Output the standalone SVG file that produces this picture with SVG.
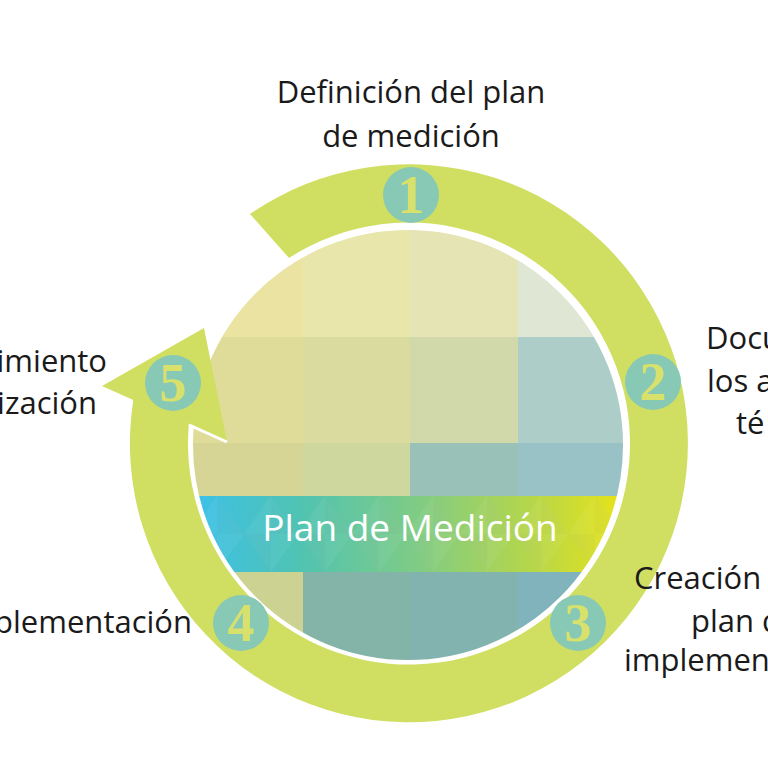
<svg xmlns="http://www.w3.org/2000/svg" width="768" height="768" viewBox="0 0 768 768">
<style>
.lbl{font-family:"Open Sans","Liberation Sans",sans-serif;font-size:31px;fill:#1a1a1a}
.num{font-family:"Liberation Serif","DejaVu Serif",serif;font-size:54px;font-weight:bold;fill:#d7e16c;text-anchor:middle}
.badge{fill:#87c9b4}
</style>
<defs>
<clipPath id="cc"><circle cx="408" cy="445" r="217"/></clipPath>
<linearGradient id="bg" x1="190" y1="0" x2="630" y2="0" gradientUnits="userSpaceOnUse">
<stop offset="0" stop-color="#3bc0ea"/>
<stop offset="0.25" stop-color="#50c3b2"/>
<stop offset="0.5" stop-color="#7ccb88"/>
<stop offset="0.75" stop-color="#b0d550"/>
<stop offset="1" stop-color="#ebe415"/>
</linearGradient>
<pattern id="dm" x="190" y="496" width="54" height="76" patternUnits="userSpaceOnUse">
<polygon points="27,0 54,38 27,76 0,38" fill="#ffffff" fill-opacity="0.05"/>
<polygon points="27,0 54,38 27,38" fill="#000000" fill-opacity="0.02"/>
<polygon points="0,38 27,76 27,38" fill="#000000" fill-opacity="0.02"/>
</pattern>
</defs>
<rect width="768" height="768" fill="#ffffff"/>
<g id="center">
<g clip-path="url(#cc)">
<rect x="180" y="220" width="123" height="117" fill="#ebe3a1"/>
<rect x="303" y="220" width="107" height="117" fill="#e8e6ab"/>
<rect x="410" y="220" width="108" height="117" fill="#e5e4b5"/>
<rect x="518" y="220" width="120" height="117" fill="#dfe6d3"/>
<rect x="180" y="337" width="123" height="106" fill="#dfdb99"/>
<rect x="303" y="337" width="107" height="106" fill="#d9db9f"/>
<rect x="410" y="337" width="108" height="106" fill="#d1d8a9"/>
<rect x="518" y="337" width="120" height="106" fill="#adcdc8"/>
<rect x="180" y="443" width="123" height="53" fill="#d7d596"/>
<rect x="303" y="443" width="107" height="53" fill="#cdd79e"/>
<rect x="410" y="443" width="108" height="53" fill="#9ac1b8"/>
<rect x="518" y="443" width="120" height="53" fill="#98c2c6"/>
<rect x="180" y="572" width="123" height="100" fill="#ccd292"/>
<rect x="303" y="572" width="107" height="100" fill="#84b3a8"/>
<rect x="410" y="572" width="108" height="100" fill="#83b3ae"/>
<rect x="518" y="572" width="120" height="100" fill="#80b3bb"/>
<rect x="180" y="496" width="458" height="76" fill="url(#bg)"/>
<rect x="180" y="496" width="458" height="76" fill="url(#dm)"/>
</g>
<circle cx="408" cy="445" r="217" fill="none" stroke="#ffffff" stroke-width="4"/>
<text x="410" y="541" text-anchor="middle" font-family="Open Sans, Liberation Sans, sans-serif" font-size="37" fill="#ffffff">Plan de Medición</text>
</g>
<g id="connectors">
<path d="M250,214 A279,279 0 1 1 133.3,400 L102,386 L204,328 L227,442 L188.8,424.9 A221,221 0 1 0 289,258 Z" fill="#d0df62"/>
<line x1="188.8" y1="424.9" x2="227" y2="442" stroke="#ffffff" stroke-width="3"/>
</g>
<g id="n1"><circle class="badge" cx="411" cy="195" r="28"/><text class="num" x="411" y="213">1</text>
<text class="lbl" x="411" y="103" text-anchor="middle">Definición del plan</text>
<text class="lbl" x="411" y="147" text-anchor="middle">de medición</text></g>
<g id="n2"><circle class="badge" cx="653" cy="382" r="28"/><text class="num" x="653" y="400">2</text>
<text class="lbl" x="706" y="349">Docu</text>
<text class="lbl" x="707" y="392">los a</text>
<text class="lbl" x="736" y="434">té</text></g>
<g id="n3"><circle class="badge" cx="578" cy="623" r="28"/><text class="num" x="578" y="641">3</text>
<text class="lbl" x="634" y="589">Creación</text>
<text class="lbl" x="691" y="632">plan d</text>
<text class="lbl" x="624" y="671">implemen</text></g>
<g id="n4"><circle class="badge" cx="241" cy="623" r="28"/><text class="num" x="241" y="641">4</text>
<text class="lbl" x="192" y="633" text-anchor="end">plementación</text></g>
<g id="n5"><circle class="badge" cx="173" cy="383" r="28"/><text class="num" x="173" y="401">5</text>
<text class="lbl" x="107" y="372" text-anchor="end">imiento</text>
<text class="lbl" x="97" y="414" text-anchor="end">ización</text></g>
</svg>
